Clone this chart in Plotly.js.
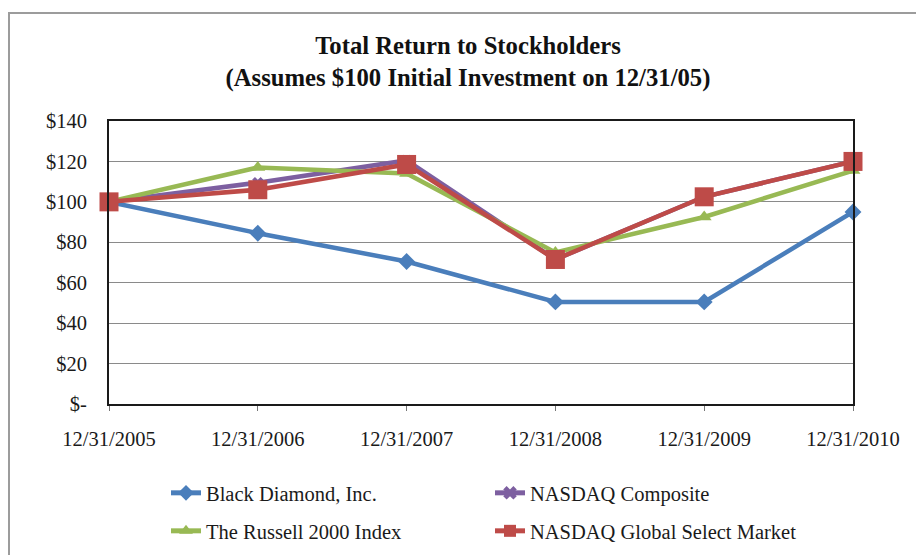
<!DOCTYPE html>
<html>
<head>
<meta charset="utf-8">
<script src="https://cdn.plot.ly/plotly-3.0.1.min.js"></script>
<style>
  html, body { margin: 0; padding: 0; background: #ffffff; overflow: hidden; }
  #frame { position: absolute; left: 8px; top: 12px; width: 940px; height: 600px;
           border: 2px solid #9c9c9c; box-sizing: border-box; }
  #chart { position: absolute; left: 0; top: 0; width: 916px; height: 555px; }
</style>
</head>
<body>
<div id="frame"></div>
<div id="chart"></div>
<script>
// ---- data ----
const dates = ['12/31/2005', '12/31/2006', '12/31/2007', '12/31/2008', '12/31/2009', '12/31/2010'];
const blackDiamond = [100, 84.5, 70.5, 50.5, 50.5, 95];
const nasdaqComposite = [100, 109.5, 120.5, 71.5, 102.5, 120];
const russell2000 = [100, 117, 114, 75, 92.5, 115.5];
const nasdaqGlobalSelect = [100, 106, 118.5, 71.5, 102.5, 120];
const seriesNames = ['Black Diamond, Inc.', 'NASDAQ Composite', 'The Russell 2000 Index', 'NASDAQ Global Select Market'];
const yTickVals = [0, 20, 40, 60, 80, 100, 120, 140];
const yTickText = ['$-', '$20', '$40', '$60', '$80', '$100', '$120', '$140'];

const serif = '"Liberation Serif", "Times New Roman", serif';

function trace(y, name, color, symbol, size, legend) {
  return {
    x: dates, y: y, name: name, type: 'scatter', mode: 'lines+markers',
    line: { color: color, width: 4.5 },
    marker: { color: color, symbol: symbol, size: size, line: { width: 0 } },
    cliponaxis: false, legend: legend
  };
}

const data = [
  trace(blackDiamond, seriesNames[0], '#4A7EBB', 'diamond', 13, 'legend'),
  trace(nasdaqComposite, seriesNames[1], '#7D5FA0', 'x', 10, 'legend2'),
  trace(russell2000, seriesNames[2], '#98B954', 'triangle-up', 13, 'legend3'),
  trace(nasdaqGlobalSelect, seriesNames[3], '#BE4B48', 'square', 19, 'legend4')
];

function leg(px, py) {
  return { xref: 'container', yref: 'container',
           x: px / 916, y: 1 - py / 555, xanchor: 'left', yanchor: 'middle', orientation: 'v',
           font: { family: serif, size: 20.5, color: '#1a1a1a' },
           bgcolor: 'rgba(0,0,0,0)', itemsizing: 'constant', itemclick: false };
}

const layout = {
  width: 916, height: 555,
  margin: { l: 109, r: 63, t: 121, b: 151, autoexpand: false },
  paper_bgcolor: 'rgba(0,0,0,0)',
  plot_bgcolor: 'rgba(0,0,0,0)',
  font: { family: serif, color: '#1a1a1a' },
  title: {
    text: 'Total Return to Stockholders<br>(Assumes $100 Initial Investment on 12/31/05)',
    font: { family: serif, size: 24.7, weight: 'bold', color: '#111' },
    xref: 'paper', x: 0.4825, xanchor: 'center',
    yref: 'container', y: 0.9026, yanchor: 'middle'
  },
  xaxis: {
    type: 'category', range: [0, 5],
    showline: true, linecolor: '#1a1a1a', linewidth: 2, mirror: true,
    showgrid: false, zeroline: false,
    ticks: 'outside', ticklen: 5, tickcolor: '#777', tickwidth: 1,
    tickfont: { family: serif, size: 20.5, color: '#1a1a1a' },
    ticklabelstandoff: 10
  },
  yaxis: {
    range: [0, 140],
    tickvals: yTickVals, ticktext: yTickText,
    showline: true, linecolor: '#1a1a1a', linewidth: 2, mirror: true,
    showgrid: true, gridcolor: '#8a8a8a', gridwidth: 1.2, zeroline: false,
    ticks: '', tickfont: { family: serif, size: 20.5, color: '#1a1a1a' },
    ticklabelstandoff: 16
  },
  legend: leg(166, 493),
  legend2: leg(490, 493),
  legend3: leg(166, 531),
  legend4: leg(490, 531),
  showlegend: true
};

Plotly.newPlot('chart', data, layout, { displayModeBar: false, staticPlot: true });
</script>
</body>
</html>
